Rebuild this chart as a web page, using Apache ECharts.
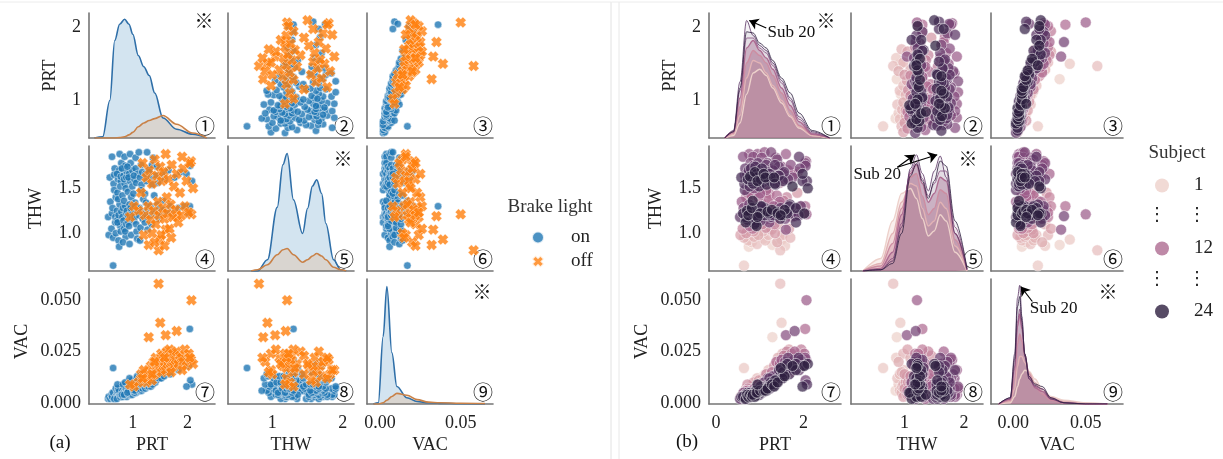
<!doctype html>
<html>
<head>
<meta charset="utf-8">
<title>Pair plots</title>
<script src="https://cdn.jsdelivr.net/npm/echarts@6/dist/echarts.min.js"></script>
<style>html,body{margin:0;background:#fff}#chart{width:1223px;height:459px}</style>
</head>
<body>
<div id="chart"></div>
<script>
// rows: [PRT, THW, VAC, subject]
var onRows = [
  [0.55,1.18,0.002,20],[0.58,1.62,0.003,22],[0.56,0.98,0.003,6],[0.59,1.35,0.002,14],
  [0.62,1.22,0.003,23],[0.64,0.64,0.017,2],[0.65,1.55,0.002,21],[0.61,1.05,0.004,9],[0.67,1.72,0.003,19],[0.63,1.28,0.005,17],[0.68,1.12,0.002,24],[0.66,1.65,0.004,18],[0.69,1.40,0.006,11],[0.62,1.85,0.003,16],[0.64,0.95,0.005,4],[0.68,1.18,0.003,22],[0.66,1.48,0.002,20],[0.69,1.00,0.007,7],
  [0.71,1.25,0.004,24],[0.73,1.60,0.003,23],[0.72,1.15,0.005,21],[0.75,1.70,0.004,20],[0.74,0.92,0.006,3],[0.76,1.32,0.003,18],[0.78,1.58,0.005,22],[0.77,1.08,0.004,13],[0.79,1.78,0.003,17],[0.72,1.45,0.006,12],[0.74,1.20,0.003,24],[0.71,1.66,0.002,19],[0.78,1.02,0.008,5],[0.76,1.88,0.004,15],[0.73,1.38,0.007,10],[0.79,1.24,0.004,23],[0.75,0.85,0.006,1],[0.77,1.52,0.003,21],[0.72,1.12,0.009,8],[0.78,1.63,0.004,24],
  [0.81,1.18,0.004,22],[0.83,1.64,0.005,20],[0.82,1.28,0.003,24],[0.85,1.55,0.004,23],[0.84,1.05,0.006,11],[0.86,1.75,0.005,18],[0.88,1.22,0.004,21],[0.87,0.96,0.008,4],[0.89,1.68,0.003,24],[0.81,1.42,0.006,13],[0.83,1.14,0.005,19],[0.85,1.85,0.004,16],[0.86,1.30,0.007,9],[0.84,1.60,0.004,22],[0.88,1.10,0.005,23],[0.82,0.90,0.009,2],[0.87,1.50,0.005,17],[0.89,1.25,0.006,20],[0.80,1.72,0.004,21],[0.86,1.02,0.010,6],[0.84,1.36,0.004,24],[0.88,1.62,0.007,14],
  [0.91,1.20,0.005,23],[0.93,1.66,0.004,22],[0.92,1.12,0.006,18],[0.95,1.58,0.005,24],[0.94,1.32,0.008,12],[0.96,1.78,0.004,19],[0.98,1.24,0.006,21],[0.97,0.98,0.009,5],[0.99,1.70,0.005,20],[0.91,1.46,0.007,10],[0.93,1.08,0.005,24],[0.95,1.88,0.006,15],[0.98,1.16,0.011,7],[0.92,1.62,0.006,23],[0.96,1.28,0.005,17],[0.94,0.88,0.012,3],[0.99,1.52,0.004,22],[0.97,1.40,0.009,13],[0.90,1.74,0.005,21],
  [1.01,1.22,0.006,24],[1.03,1.60,0.005,23],[1.02,1.14,0.007,20],[1.05,1.72,0.006,22],[1.04,1.34,0.009,11],[1.06,1.56,0.005,19],[1.08,1.26,0.007,21],[1.07,1.02,0.012,4],[1.09,1.66,0.006,24],[1.01,1.44,0.008,14],[1.03,1.18,0.005,18],[1.05,1.84,0.007,16],[1.08,0.94,0.013,1],[1.02,1.64,0.006,20],[1.06,1.10,0.010,9],[1.04,1.30,0.006,23],
  [1.11,1.20,0.007,22],[1.13,1.62,0.006,24],[1.12,1.28,0.008,21],[1.15,1.76,0.007,19],[1.14,1.06,0.010,8],[1.16,1.54,0.006,23],[1.18,1.16,0.009,17],[1.17,1.68,0.008,20],[1.19,1.38,0.011,12],[1.11,1.90,0.007,15],[1.13,0.92,0.014,3],[1.18,1.24,0.007,24],[1.15,1.48,0.009,13],
  [1.21,1.22,0.008,23],[1.23,1.66,0.007,21],[1.22,1.12,0.010,18],[1.25,1.58,0.009,22],[1.24,1.34,0.011,10],[1.26,1.90,0.008,17],[1.28,1.26,0.009,24],[1.27,1.04,0.013,6],[1.29,1.72,0.008,19],[1.22,1.44,0.012,11],[1.26,1.18,0.010,20],
  [1.31,1.20,0.009,21],[1.33,1.62,0.008,24],[1.32,1.30,0.012,14],[1.35,1.76,0.010,20],[1.34,1.10,0.013,9],[1.36,1.54,0.009,22],[1.38,1.24,0.011,23],[1.37,1.84,0.012,16],[1.39,1.42,0.014,12],[1.30,1.68,0.010,18],
  [1.41,1.22,0.010,24],[1.43,1.64,0.011,21],[1.45,1.32,0.014,13],[1.44,1.74,0.012,19],[1.47,1.16,0.013,22],[1.46,1.56,0.015,11],[1.48,1.28,0.012,20],
  [1.52,1.20,0.012,23],[1.54,1.66,0.014,18],[1.55,1.36,0.017,10],[1.57,1.26,0.013,24],[1.58,1.60,0.016,15],
  [1.62,1.24,0.015,21],[1.65,1.70,0.018,14],[1.68,1.30,0.014,22],
  [1.72,1.22,0.017,20],[1.76,1.62,0.019,17],[1.83,1.28,0.016,23],[1.87,1.68,0.020,12],
  [1.94,1.30,0.021,19],[2.04,1.30,0.036,12],[2.02,1.22,0.018,24],
  [2.08,1.58,0.009,21],[2.05,1.75,0.011,18],[1.98,1.66,0.008,23]
];
var offRows = [
  [1.47,0.81,0.058,3],[2.07,1.21,0.050,14],[1.50,0.93,0.039,2],[1.29,0.87,0.032,1],[1.60,1.04,0.033,16],[1.80,1.19,0.035,18],
  [1.22,1.20,0.012,20],[1.25,1.62,0.010,22],[1.28,1.30,0.015,11],[1.30,1.70,0.013,19],[1.33,1.15,0.018,8],[1.35,1.55,0.011,23],[1.38,1.25,0.020,12],[1.40,1.82,0.014,17],[1.42,1.10,0.022,5],[1.44,1.64,0.016,21],[1.46,1.35,0.019,13],[1.48,1.20,0.017,24],[1.50,1.74,0.021,15],[1.52,0.98,0.024,4],[1.53,1.58,0.015,22],[1.55,1.28,0.023,10],[1.56,1.68,0.018,20],[1.58,1.16,0.020,18],[1.60,1.88,0.016,14],[1.62,1.40,0.025,9],[1.63,1.22,0.019,23],[1.65,1.60,0.022,19],[1.67,1.05,0.026,6],[1.69,1.32,0.017,21],[1.71,1.76,0.020,16],[1.73,1.18,0.024,11],[1.75,1.52,0.018,24],[1.78,1.26,0.021,17],[1.80,1.66,0.025,13],[1.83,1.12,0.019,22],[1.86,1.45,0.023,7],[1.89,1.20,0.022,20],[1.92,1.72,0.020,18],[1.95,1.30,0.026,10],[1.98,1.58,0.018,21],[2.02,1.23,0.024,12],[2.06,1.80,0.021,15],[2.10,1.50,0.019,23],
  [1.10,1.25,0.010,19],[1.15,1.45,0.014,9],[1.02,1.30,0.008,21],[0.95,1.18,0.009,24],[1.20,0.98,0.016,3],[1.40,0.90,0.020,5],[1.58,0.86,0.022,2],[1.35,1.00,0.014,7],[1.18,1.78,0.012,17],[1.70,0.95,0.015,4],
  [2.04,1.78,0.022,16],[1.90,1.85,0.016,20]
];
var varNames = ['PRT', 'THW', 'VAC'];

// left diagonal kde (height as share of the panel)
var kdeGridPRT = [0.3,0.45,0.58,0.67,0.76,0.85,0.93,1.0,1.1,1.2,1.3,1.4,1.55,1.8,2.09,2.35];
var kdeOnPRT   = [0,0.01,0.3,0.78,0.91,0.95,0.91,0.83,0.66,0.57,0.5,0.36,0.16,0.07,0.03,0];
var kdeOffPRT  = [0,0,0,0,0.003,0.01,0.025,0.045,0.09,0.12,0.14,0.155,0.18,0.11,0.04,0];
var kdeGridTHW = [0.7,0.79,0.93,1.07,1.15,1.21,1.3,1.43,1.5,1.57,1.63,1.7,1.76,1.87,1.97,2.05];
var kdeOnTHW   = [0,0,0.09,0.51,0.85,0.94,0.57,0.3,0.5,0.68,0.73,0.62,0.38,0.09,0.01,0];
var kdeOffTHW  = [0,0.01,0.05,0.13,0.17,0.18,0.13,0.07,0.09,0.12,0.14,0.12,0.09,0.03,0.01,0];
var kdeGridVAC = [-0.004,-0.001,0.002,0.0043,0.0074,0.0105,0.0167,0.023,0.03,0.037,0.05,0.065];
var kdeOnVAC   = [0,0.01,0.54,0.94,0.41,0.14,0.05,0.02,0.01,0.005,0.002,0];
var kdeOffVAC  = [0,0,0.01,0.03,0.06,0.085,0.07,0.035,0.015,0.01,0.006,0.003];

// right diagonal kde per subject
var kdeSubjects = [1, 4, 8, 12, 16, 20, 24];
var subjGridPRT = [0.2,0.4,0.55,0.7,0.85,1.0,1.15,1.3,1.5,1.7,1.9,2.2,2.6];
var subjKdePRT = [
  [0,0.02,0.12,0.35,0.52,0.55,0.5,0.4,0.28,0.17,0.08,0.02,0],
  [0,0.03,0.18,0.48,0.62,0.6,0.52,0.42,0.3,0.18,0.09,0.02,0],
  [0,0.04,0.25,0.6,0.7,0.66,0.6,0.5,0.36,0.22,0.1,0.03,0],
  [0,0.05,0.32,0.72,0.78,0.7,0.64,0.55,0.4,0.26,0.13,0.03,0],
  [0,0.05,0.38,0.8,0.8,0.72,0.68,0.58,0.44,0.3,0.15,0.04,0],
  [0,0.06,0.45,0.94,0.82,0.74,0.7,0.6,0.46,0.32,0.17,0.05,0],
  [0,0.05,0.4,0.85,0.84,0.76,0.72,0.62,0.48,0.36,0.2,0.06,0]
];
var subjGridTHW = [0.3,0.6,0.8,0.95,1.1,1.2,1.3,1.4,1.5,1.6,1.7,1.85,2.05];
var subjKdeTHW = [
  [0,0.1,0.4,0.62,0.66,0.58,0.42,0.28,0.32,0.45,0.4,0.15,0],
  [0,0.06,0.3,0.55,0.7,0.68,0.5,0.36,0.4,0.55,0.5,0.2,0],
  [0,0.04,0.22,0.5,0.75,0.78,0.6,0.45,0.5,0.65,0.62,0.25,0.01],
  [0,0.02,0.15,0.45,0.78,0.85,0.7,0.55,0.62,0.75,0.72,0.3,0.01],
  [0,0.01,0.1,0.38,0.8,0.88,0.74,0.6,0.7,0.8,0.8,0.35,0.02],
  [0,0.01,0.08,0.35,0.82,0.93,0.78,0.64,0.8,0.92,0.75,0.3,0.01],
  [0,0.01,0.06,0.3,0.76,0.86,0.72,0.58,0.72,0.88,0.84,0.4,0.02]
];
var subjGridVAC = [-0.01,-0.002,0.001,0.003,0.0045,0.006,0.008,0.011,0.015,0.02,0.026,0.035,0.05,0.065];
var subjKdeVAC = [
  [0,0.01,0.06,0.14,0.2,0.24,0.27,0.26,0.2,0.12,0.06,0.03,0.01,0],
  [0,0.02,0.12,0.3,0.38,0.38,0.33,0.25,0.17,0.1,0.05,0.02,0.005,0],
  [0,0.03,0.2,0.48,0.56,0.5,0.38,0.24,0.14,0.08,0.03,0.01,0,0],
  [0,0.04,0.28,0.62,0.72,0.6,0.4,0.22,0.13,0.1,0.04,0.01,0,0],
  [0,0.04,0.3,0.66,0.76,0.62,0.4,0.2,0.14,0.12,0.05,0.01,0,0],
  [0,0.05,0.4,0.85,0.95,0.7,0.38,0.2,0.15,0.12,0.04,0.01,0,0],
  [0,0.05,0.36,0.78,0.86,0.66,0.4,0.22,0.16,0.14,0.05,0.01,0,0]
];

// axis ranges and ticks
var leftColRange  = [[0.2, 2.5], [0.37, 2.16], [-0.008, 0.070]];
var rightColRange = [[-0.16, 2.86], [0.10, 2.32], [-0.0153, 0.0757]];
var rowRange = [[0.48, 2.2], [0.58, 1.97], [-0.0005, 0.0603]];
var leftColTicks  = [[1, 2], [1, 2], [0, 0.05]];
var rightColTicks = [[0, 2], [1, 2], [0, 0.05]];
var rowTicks = [[1, 2], [1, 1.5], [0, 0.025, 0.05]];

// layout
var colX = [[89, 228, 367], [709, 851, 991]];
var colW = [126, 132];
var rowY = [13, 146, 279];
var rowH = 125;

var serif = 'Liberation Serif';
var symFont = 'Noto Sans CJK JP';
var axisLine = {show: true, onZero: false, lineStyle: {color: '#757575', width: 1.6}};
var xPath = 'path://M0,3 L3,0 L5,2 L7,0 L10,3 L8,5 L10,7 L7,10 L5,8 L3,10 L0,7 L2,5 Z';

function cubehelix(s) {
    var t = 0.85 - 0.7 * (s - 1) / 23;
    var a = 0.8 * t * (1 - t) / 2;
    var phi = 2 * Math.PI * 0.4 * t;
    var c = Math.cos(phi), sn = Math.sin(phi);
    var rgb = [t + a * (-0.14861 * c + 1.78277 * sn), t + a * (-0.29227 * c - 0.90649 * sn), t + a * (1.97294 * c)];
    return 'rgb(' + rgb.map(function (v) { return Math.round(Math.max(0, Math.min(1, v)) * 255); }).join(',') + ')';
}
function xFmt(c) { return c === 2 ? function (v) { return v.toFixed(2); } : function (v) { return String(v); }; }
function yFmt(r) {
    if (r === 2) return function (v) { return v.toFixed(3); };
    if (r === 1) return function (v) { return v.toFixed(1); };
    return function (v) { return String(v); };
}
function curve(grid, vals) { return grid.map(function (x, i) { return [x, vals[i]]; }); }

var grids = [], xAxes = [], yAxes = [], series = [], graphics = [];
var rightScatter = [];
var allRows = onRows.concat(offRows).sort(function (a, b) { return a[3] - b[3]; });
var yNameGap = [[30, 44, 58], [30, 44, 58]];

[0, 1].forEach(function (side) {
    var colRange = side ? rightColRange : leftColRange;
    var colTicks = side ? rightColTicks : leftColTicks;
    for (var r = 0; r < 3; r++) {
        for (var c = 0; c < 3; c++) {
            var g = side * 9 + r * 3 + c;
            grids.push({left: colX[side][c], top: rowY[r], width: colW[side], height: rowH});
            xAxes.push({
                type: 'value', gridIndex: g, min: colRange[c][0], max: colRange[c][1],
                axisLine: axisLine, axisTick: {show: false}, splitLine: {show: false},
                axisLabel: {show: r === 2, customValues: colTicks[c], formatter: xFmt(c),
                    fontFamily: serif, fontSize: 18, color: '#222', margin: 10},
                name: r === 2 ? varNames[c] : '', nameLocation: 'middle', nameGap: 32,
                nameTextStyle: {fontFamily: serif, fontSize: 18, color: '#222'}
            });
            yAxes.push({
                type: 'value', gridIndex: g, min: rowRange[r][0], max: rowRange[r][1],
                axisLine: axisLine, axisTick: {show: false}, splitLine: {show: false},
                axisLabel: {show: c === 0, customValues: rowTicks[r], formatter: yFmt(r),
                    fontFamily: serif, fontSize: 18, color: '#222', margin: 8},
                name: c === 0 ? varNames[r] : '', nameLocation: 'middle', nameGap: yNameGap[side][r],
                nameTextStyle: {fontFamily: serif, fontSize: 18, color: '#222'}
            });
            if (r === c) continue;
            if (side === 0) {
                series.push({type: 'scatter', name: 'on', xAxisIndex: g, yAxisIndex: g, clip: false, silent: true,
                    symbolSize: 7.5, itemStyle: {color: '#1f77b4', opacity: 0.8, borderColor: '#fff', borderWidth: 0.6},
                    data: onRows.map(function (d) { return [d[c], d[r]]; })});
                series.push({type: 'scatter', name: 'off', xAxisIndex: g, yAxisIndex: g, clip: false, silent: true,
                    symbol: xPath, symbolSize: 11, itemStyle: {color: '#ff7f0e', opacity: 0.8, borderColor: '#fff', borderWidth: 0.5},
                    data: offRows.map(function (d) { return [d[c], d[r]]; })});
            } else {
                rightScatter.push(series.length);
                series.push({type: 'scatter', name: 'subj', xAxisIndex: g, yAxisIndex: g, clip: false, silent: true,
                    symbolSize: 11, itemStyle: {opacity: 0.72, borderColor: '#fff', borderWidth: 0.7},
                    data: allRows.map(function (d) { return [d[c], d[r], d[3]]; })});
            }
        }
    }
});

// density axes for the diagonal cells
[0, 1].forEach(function (side) {
    for (var d = 0; d < 3; d++) {
        yAxes.push({type: 'value', gridIndex: side * 9 + d * 4, min: 0, max: 1, show: false});
    }
});

function kdeSeries(g, yIdx, data, line, fill, name) {
    return {type: 'line', name: name, xAxisIndex: g, yAxisIndex: yIdx, data: data, showSymbol: false,
        smooth: 0.35, smoothMonotone: 'x', silent: true,
        lineStyle: {color: line, width: 1.6}, areaStyle: {color: fill}};
}
var leftGrids = [kdeGridPRT, kdeGridTHW, kdeGridVAC];
var leftOn = [kdeOnPRT, kdeOnTHW, kdeOnVAC];
var leftOff = [kdeOffPRT, kdeOffTHW, kdeOffVAC];
for (var d = 0; d < 3; d++) {
    series.push(kdeSeries(d * 4, 18 + d, curve(leftGrids[d], leftOn[d]), '#2f6fa8', 'rgba(31,119,180,0.28)', 'on kde'));
    series.push(kdeSeries(d * 4, 18 + d, curve(leftGrids[d], leftOff[d]), '#c98147', 'rgba(255,127,14,0.2)', 'off kde'));
}

var subjGrids = [subjGridPRT, subjGridTHW, subjGridVAC];
var subjKde = [subjKdePRT, subjKdeTHW, subjKdeVAC];
var arrowStyle = {color: '#000', width: 1.2, type: 'solid'};
var sub20Notes = [
    {text: [1.18, 0.84], arrows: [[[1.15, 0.88], [0.76, 0.94]]]},
    {text: [0.14, 0.77], arrows: [[[0.88, 0.83], [1.17, 0.93]], [[0.88, 0.83], [1.55, 0.93]]]},
    {text: [0.0115, 0.76], arrows: [[[0.0132, 0.82], [0.0052, 0.94]]]}
];
for (var d = 0; d < 3; d++) {
    kdeSubjects.forEach(function (s, k) {
        var col = cubehelix(s);
        var sr = kdeSeries(9 + d * 4, 21 + d, curve(subjGrids[d], subjKde[d][k]), col, col, 'kde ' + s);
        sr.lineStyle.width = s <= 12 ? 1.4 : 1.0;
        sr.lineStyle.opacity = s <= 12 ? 1 : 0.8;
        sr.areaStyle.opacity = s <= 12 ? 0.34 : 0.06;
        if (s === 20) {
            var note = sub20Notes[d];
            sr.markLine = {silent: true, symbol: ['none', 'arrow'], symbolSize: 9, lineStyle: arrowStyle,
                label: {show: false},
                data: note.arrows.map(function (a) { return [{coord: a[0]}, {coord: a[1]}]; })};
            sr.markPoint = {silent: true, symbol: 'circle', symbolSize: 0,
                label: {show: true, position: 'right', distance: 0, formatter: 'Sub 20',
                    fontFamily: serif, fontSize: 17, color: '#111'},
                data: [{coord: note.text}]};
        }
        series.push(sr);
    });
}

// legend helpers for the subject colours
var legendSubjects = ['1', '12', '24'];
legendSubjects.forEach(function (s) {
    series.push({type: 'scatter', name: s, data: [], xAxisIndex: 9, yAxisIndex: 9,
        itemStyle: {color: cubehelix(+s)}});
});

var stops = [];
for (var s = 1; s <= 24; s += 23 / 11) stops.push(cubehelix(s));

// panel marks
var circled = ['①', '②', '③', '④', '⑤', '⑥', '⑦', '⑧', '⑨'];
[0, 1].forEach(function (side) {
    for (var r = 0; r < 3; r++) {
        for (var c = 0; c < 3; c++) {
            var right = colX[side][c] + colW[side];
            graphics.push({type: 'text', x: right - 10, y: rowY[r] + rowH - 12,
                style: {text: circled[r * 3 + c], font: '20px "' + symFont + '"', fill: '#111',
                    textAlign: 'center', textVerticalAlign: 'middle'}});
            if (r === c) {
                graphics.push({type: 'text', x: right - (side ? 15 : 11), y: rowY[r] + (r === 0 ? 8 : 13),
                    style: {text: '※', font: '19px "' + symFont + '"', fill: '#111',
                        textAlign: 'center', textVerticalAlign: 'middle'}});
            }
        }
    }
});
graphics.push({type: 'text', x: 60, y: 443, style: {text: '(a)', font: '19px "' + serif + '"', fill: '#111', textAlign: 'center', textVerticalAlign: 'middle'}});
graphics.push({type: 'text', x: 687, y: 442, style: {text: '(b)', font: '19px "' + serif + '"', fill: '#111', textAlign: 'center', textVerticalAlign: 'middle'}});
graphics.push({type: 'text', x: 550, y: 207, style: {text: 'Brake light', font: '19px "' + serif + '"', fill: '#333', textAlign: 'center', textVerticalAlign: 'middle'}});
graphics.push({type: 'text', x: 1177, y: 153, style: {text: 'Subject', font: '19px "' + serif + '"', fill: '#333', textAlign: 'center', textVerticalAlign: 'middle'}});
[215, 279].forEach(function (y) {
    [1157, 1197].forEach(function (x) {
        graphics.push({type: 'text', x: x, y: y, style: {text: '⋮', font: '18px "DejaVu Sans"', fill: '#222', textAlign: 'center', textVerticalAlign: 'middle'}});
    });
});
graphics.push({type: 'line', shape: {x1: 611, y1: 2, x2: 611, y2: 459}, style: {stroke: '#e2e2e2', lineWidth: 1}});
graphics.push({type: 'line', shape: {x1: 619, y1: 2, x2: 619, y2: 459}, style: {stroke: '#e8e8e8', lineWidth: 1}});
graphics.push({type: 'line', shape: {x1: 0, y1: 2, x2: 1223, y2: 2}, style: {stroke: '#ececec', lineWidth: 1}});

var option = {
    animation: false,
    backgroundColor: '#fff',
    grid: grids,
    xAxis: xAxes,
    yAxis: yAxes,
    visualMap: {type: 'continuous', show: false, min: 1, max: 24, dimension: 2,
        seriesIndex: rightScatter, inRange: {color: stops}},
    legend: [
        {data: [{name: 'on', icon: 'circle'}, {name: 'off', icon: xPath}], orient: 'vertical',
            left: 526, top: 223, itemWidth: 12, itemHeight: 12, itemGap: 5, selectedMode: false,
            textStyle: {fontFamily: serif, fontSize: 19, color: '#222', padding: [0, 0, 0, 22]}},
        {data: legendSubjects, orient: 'vertical', left: 1150, top: 171, itemWidth: 14, itemHeight: 14,
            itemGap: 44, selectedMode: false, icon: 'circle',
            textStyle: {fontFamily: serif, fontSize: 19, color: '#222', padding: [0, 0, 0, 20]}}
    ],
    graphic: graphics,
    series: series
};

var chart = echarts.init(document.getElementById('chart'));
chart.setOption(option);
</script>
</body>
</html>
